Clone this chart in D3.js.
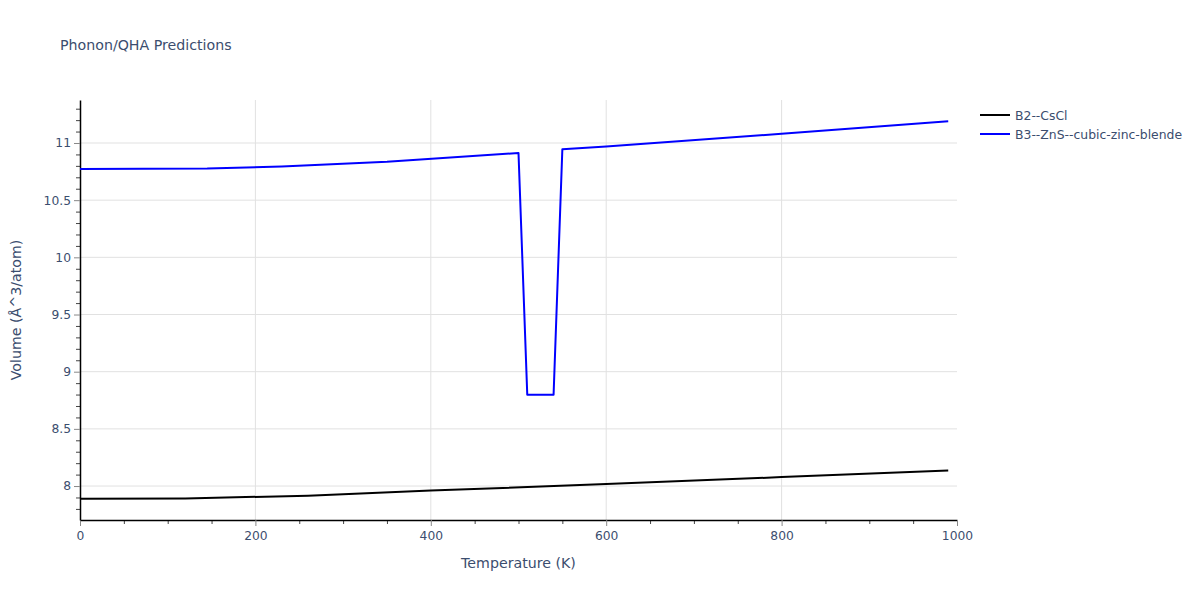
<!DOCTYPE html>
<html>
<head>
<meta charset="utf-8">
<script src="https://cdn.jsdelivr.net/npm/d3@7"></script>
<style>
  body { margin: 0; background: #fff; }
  text { font-family: "DejaVu Sans", sans-serif; fill: #3b4d6e; }
</style>
</head>
<body>
<div id="chart"></div>
<script>
const width = 1200;
const height = 600;
const margin = { top: 100, right: 243, bottom: 80, left: 80 };
const fontFamily = "'DejaVu Sans', sans-serif";
const textColor = "#3b4d6e";

// series: temperature (K) and volume (Å^3/atom)
const cscl_T = [0, 120, 260, 400, 600, 800, 990];
const cscl_V = [7.888, 7.892, 7.915, 7.96, 8.017, 8.078, 8.135];

const znsT = [0, 145, 230, 350, 500, 510, 540, 550, 600, 800, 990];
const znsV = [10.772, 10.776, 10.795, 10.835, 10.913, 8.799, 8.799, 10.945, 10.97, 11.08, 11.19];

const seriesNames = ["B2--CsCl", "B3--ZnS--cubic-zinc-blende"];
const seriesColors = ["black", "blue"];

const xTicks = [0, 200, 400, 600, 800, 1000];
const yTicks = [8, 8.5, 9, 9.5, 10, 10.5, 11];

const innerW = width - margin.left - margin.right;
const innerH = height - margin.top - margin.bottom;

const x = d3.scaleLinear().domain([0, 1000]).range([0, innerW]);
const y = d3.scaleLinear().domain([7.703, 11.376]).range([innerH, 0]);

const svg = d3.select("#chart").append("svg")
  .attr("width", width)
  .attr("height", height);

svg.append("text")
  .attr("x", 60).attr("y", 50)
  .attr("font-size", 14.2)
  .text("Phonon/QHA Predictions");

const plot = svg.append("g")
  .attr("transform", `translate(${margin.left}, ${margin.top})`);

// grid lines
plot.append("g").selectAll("line")
  .data(xTicks.filter(d => d > 0 && d < 1000))
  .join("line")
  .attr("x1", d => x(d)).attr("x2", d => x(d))
  .attr("y1", 0).attr("y2", innerH)
  .attr("stroke", "#e1e1e1");

plot.append("g").selectAll("line")
  .data(yTicks)
  .join("line")
  .attr("x1", 0).attr("x2", innerW)
  .attr("y1", d => y(d)).attr("y2", d => y(d))
  .attr("stroke", "#e1e1e1");

// minor ticks
const xMinor = d3.range(0, 1001, 50).filter(d => d % 200 !== 0);
const yMinor = d3.range(78, 114).map(d => d / 10).filter(d => Math.round(d * 10) % 5 !== 0);

plot.append("g").attr("transform", `translate(0, ${innerH})`)
  .call(d3.axisBottom(x).tickValues(xMinor).tickSize(4).tickFormat(""))
  .call(g => g.select(".domain").remove())
  .selectAll("line").attr("stroke", "#444");

plot.append("g")
  .call(d3.axisLeft(y).tickValues(yMinor).tickSize(4).tickFormat(""))
  .call(g => g.select(".domain").remove())
  .selectAll("line").attr("stroke", "#444");

// major axes
const xAxis = plot.append("g").attr("transform", `translate(0, ${innerH})`)
  .call(d3.axisBottom(x).tickValues(xTicks).tickSize(6).tickSizeOuter(0).tickPadding(5)
    .tickFormat(d3.format("d")));
xAxis.select(".domain").attr("stroke", "black").attr("stroke-width", 1.5);
xAxis.selectAll(".tick line").attr("stroke", "#888");
xAxis.selectAll("text").attr("font-size", 12.3).attr("fill", textColor)
  .attr("font-family", fontFamily);

const yAxis = plot.append("g")
  .call(d3.axisLeft(y).tickValues(yTicks).tickSize(6).tickSizeOuter(0).tickPadding(3)
    .tickFormat(d3.format("~g")));
yAxis.select(".domain").attr("stroke", "black").attr("stroke-width", 1.5);
yAxis.selectAll(".tick line").attr("stroke", "#888");
yAxis.selectAll("text").attr("font-size", 12.3).attr("fill", textColor)
  .attr("font-family", fontFamily);

// lines
const line = d3.line().x(d => x(d[0])).y(d => y(d[1]));
const series = [
  d3.zip(cscl_T, cscl_V),
  d3.zip(znsT, znsV)
];

plot.append("g").selectAll("path")
  .data(series)
  .join("path")
  .attr("d", line)
  .attr("fill", "none")
  .attr("stroke", (d, i) => seriesColors[i])
  .attr("stroke-width", 2)
  .attr("stroke-linejoin", "round");

// axis titles
svg.append("text")
  .attr("x", margin.left + innerW / 2).attr("y", 568)
  .attr("text-anchor", "middle")
  .attr("font-size", 14.2)
  .text("Temperature (K)");

svg.append("text")
  .attr("transform", `translate(21, ${margin.top + innerH / 2}) rotate(-90)`)
  .attr("text-anchor", "middle")
  .attr("font-size", 14.2)
  .text("Volume (Å^3/atom)");

// legend
const legend = svg.append("g").attr("transform", "translate(980, 115)");
const items = legend.selectAll("g")
  .data(seriesNames)
  .join("g")
  .attr("transform", (d, i) => `translate(0, ${i * 19})`);
items.append("line")
  .attr("x1", 0).attr("x2", 30)
  .attr("stroke", (d, i) => seriesColors[i])
  .attr("stroke-width", 2);
items.append("text")
  .attr("x", 35).attr("y", 4.5)
  .attr("font-size", 12.4)
  .text(d => d);
</script>
</body>
</html>
